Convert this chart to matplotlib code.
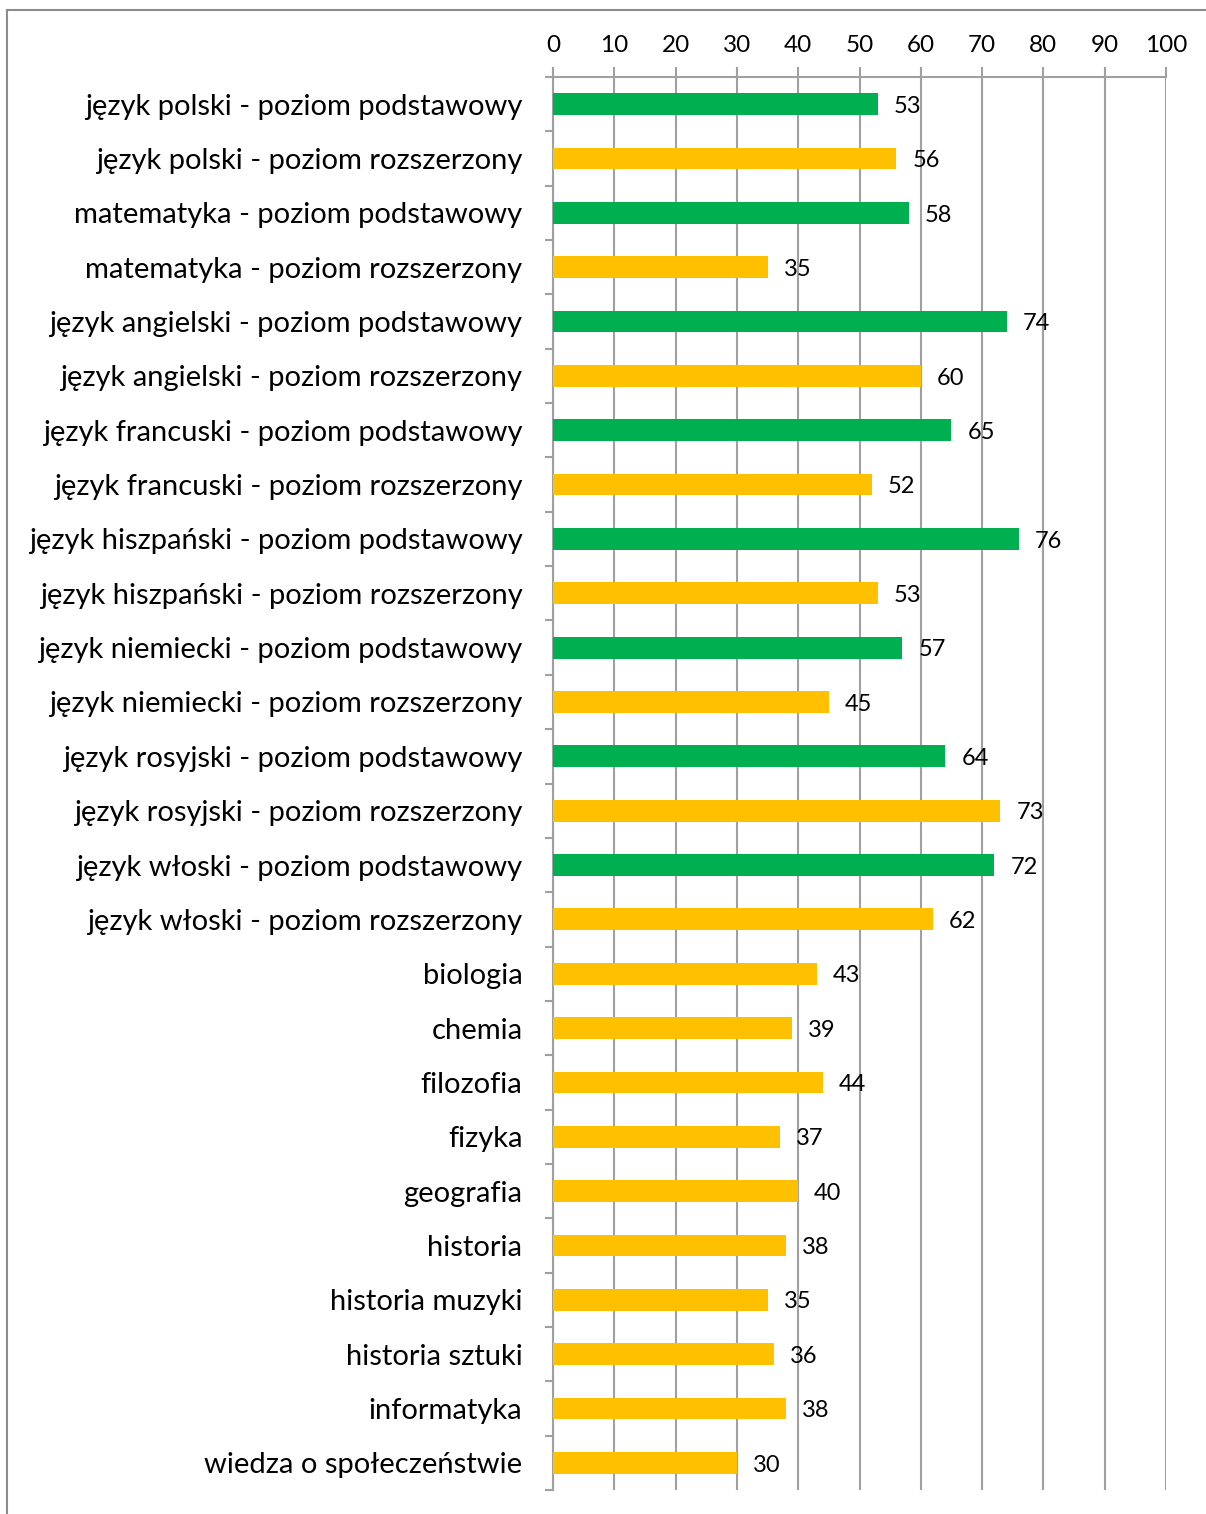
import matplotlib.pyplot as plt
from matplotlib.lines import Line2D
import numpy as np

plt.rcParams['font.family'] = ['Lato', 'DejaVu Sans']

subjects = [
    'język polski - poziom podstawowy',
    'język polski - poziom rozszerzony',
    'matematyka - poziom podstawowy',
    'matematyka - poziom rozszerzony',
    'język angielski - poziom podstawowy',
    'język angielski - poziom rozszerzony',
    'język francuski - poziom podstawowy',
    'język francuski - poziom rozszerzony',
    'język hiszpański - poziom podstawowy',
    'język hiszpański - poziom rozszerzony',
    'język niemiecki - poziom podstawowy',
    'język niemiecki - poziom rozszerzony',
    'język rosyjski - poziom podstawowy',
    'język rosyjski - poziom rozszerzony',
    'język włoski - poziom podstawowy',
    'język włoski - poziom rozszerzony',
    'biologia',
    'chemia',
    'filozofia',
    'fizyka',
    'geografia',
    'historia',
    'historia muzyki',
    'historia sztuki',
    'informatyka',
    'wiedza o społeczeństwie',
]
values = [53, 56, 58, 35, 74, 60, 65, 52, 76, 53, 57, 45, 64, 73, 72, 62,
          43, 39, 44, 37, 40, 38, 35, 36, 38, 30]
x_ticks = [0, 10, 20, 30, 40, 50, 60, 70, 80, 90, 100]

GREEN = '#00B050'
YELLOW = '#FFC000'
GRID = '#A0A0A0'

colors = [GREEN if 'podstawowy' in s else YELLOW for s in subjects]

W, H = 1206, 1514
fig = plt.figure(figsize=(W / 100, H / 100), dpi=100)
ax = fig.add_axes([553 / W, 1 - 1490 / H, (1166 - 553) / W, (1490 - 77) / H])

pos = np.arange(len(subjects))
ax.barh(pos, values, height=0.4, color=colors, zorder=3)
for p, v in zip(pos, values):
    ax.text(v + 2.6, p + 0.04, str(v), va='center', ha='left', fontsize=17, zorder=4)

ax.set_xlim(0, 100)
ax.set_ylim(len(subjects) - 0.5, -0.5)
ax.xaxis.tick_top()
ax.set_xticks(x_ticks)
ax.set_xticklabels([str(t) for t in x_ticks], fontsize=17.5)
ax.tick_params(axis='x', length=7, width=1.5, color=GRID, pad=8)
ax.grid(axis='x', color=GRID, lw=1.5, zorder=0)

ax.set_yticks(pos)
ax.set_yticklabels(subjects, fontsize=21)
ax.set_yticks(np.arange(len(subjects) + 1) - 0.5, minor=True)
ax.tick_params(axis='y', which='major', length=0, pad=22)
ax.tick_params(axis='y', which='minor', length=6, width=1.5, color=GRID)

for side in ['right', 'bottom']:
    ax.spines[side].set_visible(False)
for side in ['left', 'top']:
    ax.spines[side].set_color(GRID)
    ax.spines[side].set_linewidth(1.5)

# outer chart frame (only top and left edges are visible)
fig.add_artist(Line2D([7 / W, 1], [1 - 10 / H, 1 - 10 / H], color='#8C8C8C', lw=1.5))
fig.add_artist(Line2D([7 / W, 7 / W], [0, 1 - 10 / H], color='#8C8C8C', lw=1.5))

fig.savefig('out.png', dpi=100)
